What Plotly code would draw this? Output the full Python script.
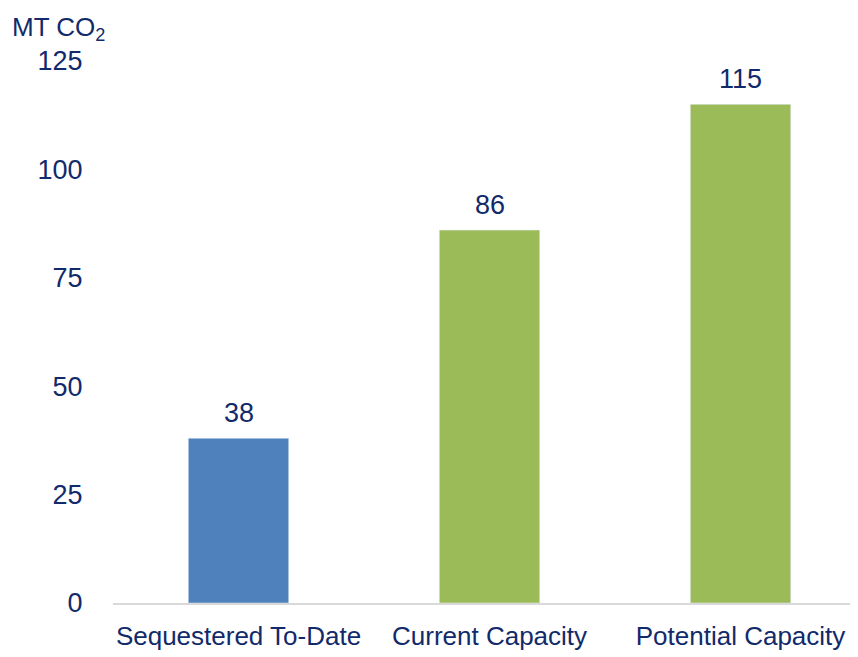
import plotly.graph_objects as go

categories = ["Sequestered To-Date", "Current Capacity", "Potential Capacity"]
values = [38, 86, 115]
colors = ["#4F81BD", "#9BBB59", "#9BBB59"]
tick_vals = [0, 25, 50, 75, 100, 125]

FONT = "Liberation Sans Narrow, Arial Narrow, Liberation Sans, Arial"
NAVY = "#112A6B"
FS = 26

fig = go.Figure(go.Bar(
    x=categories, y=values, marker_color=colors, width=0.4,
))
label_annots = [
    dict(x=c, y=v, text=str(v), xref="x", yref="y", showarrow=False,
         yanchor="bottom", yshift=8, font=dict(size=FS + 1, color=NAVY, family=FONT))
    for c, v in zip(categories, values)
]
fig.update_layout(
    width=850, height=649,
    margin=dict(l=105, r=0, t=53, b=54),
    plot_bgcolor="white", paper_bgcolor="white",
    font=dict(family=FONT, color=NAVY, size=FS),
    showlegend=False,
    xaxis=dict(range=[-0.5, 2.468], showline=True, linecolor="#D9D9D9", linewidth=2,
               ticks="outside", ticklen=9, tickcolor="rgba(0,0,0,0)",
               tickangle=0, automargin=False,
               tickfont=dict(size=FS, color=NAVY, family=FONT)),
    yaxis=dict(range=[0, 125], tickvals=tick_vals, showgrid=False, zeroline=False,
               showline=False, ticks="outside", ticklen=24, tickcolor="rgba(0,0,0,0)",
               automargin=False,
               tickfont=dict(size=FS + 1, color=NAVY, family=FONT)),
    annotations=label_annots + [dict(text="MT CO<sub>2</sub>", xref="paper", yref="paper",
                      x=-105/745, y=1 + 53/542, xanchor="left", yanchor="top",
                      showarrow=False, font=dict(size=FS, color=NAVY, family=FONT),
                      xshift=2, yshift=-2)],
)
fig.write_html("out.html")
